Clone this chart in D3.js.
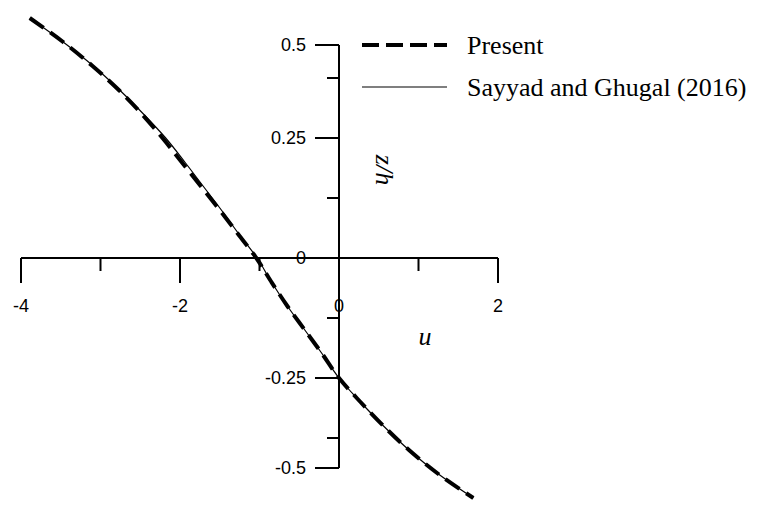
<!DOCTYPE html>
<html>
<head>
<meta charset="utf-8">
<script src="https://cdn.jsdelivr.net/npm/d3@7/dist/d3.min.js"></script>
<style>
  html, body { margin: 0; padding: 0; background: #fff; }
  svg { display: block; }
</style>
</head>
<body>
<svg id="chart" width="768" height="508"></svg>
<script>
// Through-thickness position z/h
const zValues = [0.5, 0.45, 0.4, 0.35, 0.3, 0.25, 0.2, 0.15, 0.1, 0.05, 0,
                 -0.05, -0.1, -0.15, -0.2, -0.25, -0.3, -0.35, -0.4, -0.45, -0.5];
// Axial displacement u, present theory
const presentU = [-3.89, -3.47, -3.10, -2.77, -2.48, -2.22, -1.98, -1.74, -1.50, -1.27, -1.04,
                  -0.85, -0.65, -0.43, -0.21, 0.00, 0.27, 0.56, 0.88, 1.25, 1.69];
// Axial displacement u, Sayyad and Ghugal (2016)
const sayyadU = [-3.89, -3.47, -3.09, -2.76, -2.46, -2.18, -1.94, -1.71, -1.48, -1.26, -1.03,
                 -0.85, -0.65, -0.43, -0.21, 0.00, 0.27, 0.56, 0.88, 1.25, 1.69];

const seriesNames = ["Present", "Sayyad and Ghugal (2016)"];

// Horizontal axis ticks
const xMajorTicks = [-4, -2, 0, 2];
const xMinorTicks = [-3, -1, 1];
const xTickLabels = ["-4", "-2", "0", "2"];

// Vertical axis ticks (the axis line ends at its outermost labelled ticks)
const yMajorTicks = [0.44375, 0.25, 0, -0.25, -0.4375];
const yMinorTicks = [0.375, 0.125, -0.125, -0.375];
const yTickLabels = ["0.5", "0.25", "0", "-0.25", "-0.5"];

const svg = d3.select("#chart");

const x = d3.scaleLinear().domain([-4, 2]).range([21, 498]);
const y = d3.scaleLinear().domain([-0.5, 0.5]).range([498, 18]);

const sans = "'Liberation Sans', Arial, sans-serif";
const serif = "'Liberation Serif', 'Times New Roman', serif";

// ---- horizontal axis (crosses at z/h = 0), ticks pointing down ----
const xAxisG = svg.append("g").attr("transform", `translate(0,${y(0)})`);
xAxisG.append("line")
  .attr("x1", x(-4)).attr("x2", x(2))
  .attr("stroke", "#000").attr("stroke-width", 2);
xAxisG.selectAll("line.major").data(xMajorTicks).join("line")
  .attr("class", "major")
  .attr("x1", d => x(d)).attr("x2", d => x(d))
  .attr("y1", 0).attr("y2", 25)
  .attr("stroke", "#000").attr("stroke-width", 2);
xAxisG.selectAll("line.minor").data(xMinorTicks).join("line")
  .attr("class", "minor")
  .attr("x1", d => x(d)).attr("x2", d => x(d))
  .attr("y1", 0).attr("y2", 13)
  .attr("stroke", "#000").attr("stroke-width", 2);
xAxisG.selectAll("text").data(xMajorTicks).join("text")
  .attr("x", d => x(d)).attr("y", 54)
  .attr("text-anchor", "middle")
  .attr("font-family", sans).attr("font-size", 18)
  .text((d, i) => xTickLabels[i]);

// ---- vertical axis (at u = 0), ticks pointing left ----
const yAxisG = svg.append("g").attr("transform", `translate(${x(0)},0)`);
yAxisG.append("line")
  .attr("y1", y(yMajorTicks[0])).attr("y2", y(yMajorTicks[yMajorTicks.length - 1]))
  .attr("stroke", "#000").attr("stroke-width", 2);
yAxisG.selectAll("line.major").data(yMajorTicks).join("line")
  .attr("class", "major")
  .attr("y1", d => y(d)).attr("y2", d => y(d))
  .attr("x1", 0).attr("x2", -24)
  .attr("stroke", "#000").attr("stroke-width", 2);
yAxisG.selectAll("line.minor").data(yMinorTicks).join("line")
  .attr("class", "minor")
  .attr("y1", d => y(d)).attr("y2", d => y(d))
  .attr("x1", 0).attr("x2", -12)
  .attr("stroke", "#000").attr("stroke-width", 2);
yAxisG.selectAll("text").data(yMajorTicks).join("text")
  .attr("x", -33).attr("y", d => y(d))
  .attr("dy", "0.35em")
  .attr("text-anchor", "end")
  .attr("font-family", sans).attr("font-size", 18)
  .text((d, i) => yTickLabels[i]);

// ---- axis titles ----
svg.append("text")
  .attr("x", 425).attr("y", 345)
  .attr("text-anchor", "middle")
  .attr("font-family", serif).attr("font-style", "italic").attr("font-size", 26)
  .text("u");
svg.append("text")
  .attr("transform", `translate(376,170) rotate(90)`)
  .attr("text-anchor", "middle")
  .attr("font-family", serif).attr("font-style", "italic").attr("font-size", 26)
  .text("z/h");

// ---- curves ----
const line = d3.line().curve(d3.curveMonotoneY);

const sayyadPts = zValues.map((z, i) => [x(sayyadU[i]), y(z)]);
const presentPts = zValues.map((z, i) => [x(presentU[i]), y(z)]);

svg.append("path")
  .attr("d", line(sayyadPts))
  .attr("fill", "none").attr("stroke", "#000").attr("stroke-width", 1.2);

svg.append("path")
  .attr("d", line(presentPts))
  .attr("fill", "none").attr("stroke", "#000").attr("stroke-width", 4)
  .attr("stroke-dasharray", "17,8");

// ---- legend ----
const legend = svg.append("g");
legend.append("line")
  .attr("x1", 362).attr("x2", 447).attr("y1", 45).attr("y2", 45)
  .attr("stroke", "#000").attr("stroke-width", 4)
  .attr("stroke-dasharray", "17,7");
legend.append("line")
  .attr("x1", 362).attr("x2", 447).attr("y1", 87).attr("y2", 87)
  .attr("stroke", "#000").attr("stroke-width", 1.2);
legend.selectAll("text").data(seriesNames).join("text")
  .attr("x", 467).attr("y", (d, i) => 54 + i * 42)
  .attr("font-family", serif).attr("font-size", 26)
  .text(d => d);
</script>
</body>
</html>
